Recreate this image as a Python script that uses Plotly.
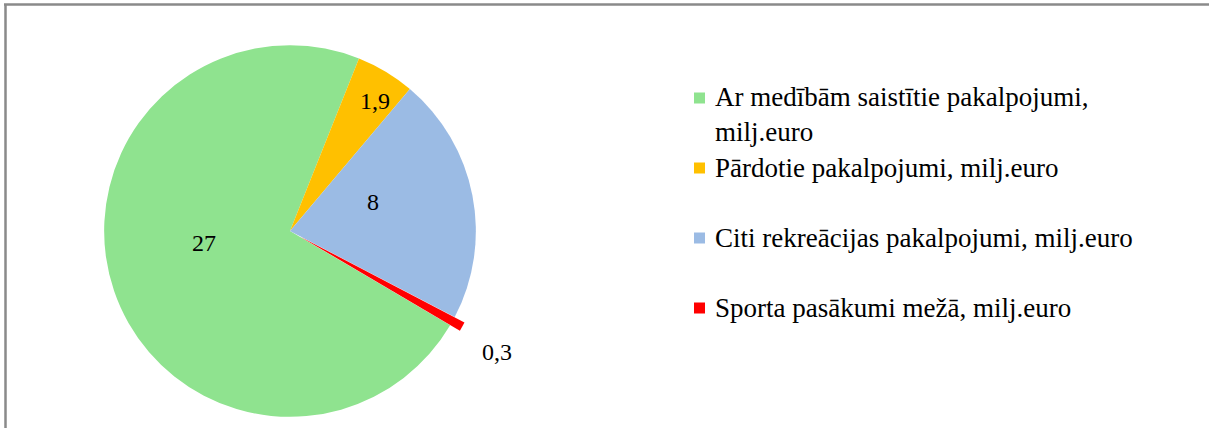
import plotly.graph_objects as go

# Forest recreation services, million euro
labels = [
    "Ar medībām saistītie pakalpojumi, milj.euro",
    "Pārdotie pakalpojumi, milj.euro",
    "Citi rekreācijas pakalpojumi, milj.euro",
    "Sporta pasākumi mežā, milj.euro",
]
values = [27, 1.9, 8, 0.3]
colors = ["#8FE38F", "#FFC000", "#9BBBE4", "#FF0000"]
pulls = [0, 0, 0, 0.06]

W, H = 1209, 428
FONT = "Liberation Serif"
FS = 27


def px_x(x):
    return x / W


def px_y(y):
    return 1 - y / H


def fmt(v):
    return f"{v:g}".replace(".", ",")


fig = go.Figure()
fig.add_trace(go.Pie(
    labels=labels,
    values=values,
    marker=dict(colors=colors, line=dict(width=0)),
    sort=False,
    direction="clockwise",
    rotation=120.5,
    pull=pulls,
    textinfo="none",
    hoverinfo="label+value",
    showlegend=False,
    domain=dict(x=[px_x(290 - 205), px_x(290 + 205)], y=[0, px_y(H - 2 * (H - 231))]),
))

# value labels on the slices
label_pos = [(204, 243), (375, 101), (373, 202), (497, 352)]
annotations = []
for v, (x, y) in zip(values, label_pos):
    annotations.append(dict(
        x=px_x(x), y=px_y(y), xref="paper", yref="paper",
        text=fmt(v), showarrow=False, xanchor="center", yanchor="middle",
        font=dict(family=FONT, size=FS - 3, color="#000000"),
    ))

# legend: colour square + text per category
legend_rows = [98, 168, 238, 308]
shapes = []
for lab, col, y in zip(labels, colors, legend_rows):
    if lab.startswith("Ar "):
        head, tail = lab.rsplit(" ", 1)
        annotations.append(dict(
            x=px_x(713), y=px_y(y - 18), xref="paper", yref="paper",
            text=head + "<br>" + tail, showarrow=False, xanchor="left", yanchor="top",
            align="left", font=dict(family=FONT, size=FS, color="#000000"),
        ))
    else:
        annotations.append(dict(
            x=px_x(713), y=px_y(y), xref="paper", yref="paper",
            text=lab, showarrow=False, xanchor="left", yanchor="middle", align="left",
            font=dict(family=FONT, size=FS, color="#000000"),
        ))
    shapes.append(dict(
        type="rect", xref="paper", yref="paper",
        x0=px_x(694), x1=px_x(705), y0=px_y(y - 5.5), y1=px_y(y + 5.5),
        fillcolor=col, line=dict(width=0),
    ))

# chart frame (top and left edges)
shapes.append(dict(type="line", xref="paper", yref="paper",
                   x0=px_x(4), x1=1, y0=px_y(4.5), y1=px_y(4.5),
                   line=dict(color="#8A8A8A", width=2.5)))
shapes.append(dict(type="line", xref="paper", yref="paper",
                   x0=px_x(5.5), x1=px_x(5.5), y0=px_y(4), y1=0,
                   line=dict(color="#8A8A8A", width=2.5)))

fig.update_layout(
    width=W, height=H,
    margin=dict(l=0, r=0, t=0, b=0, autoexpand=False),
    paper_bgcolor="white",
    plot_bgcolor="white",
    separators=",.",
    annotations=annotations,
    shapes=shapes,
    font=dict(family=FONT),
)

fig.write_html("out.html")
